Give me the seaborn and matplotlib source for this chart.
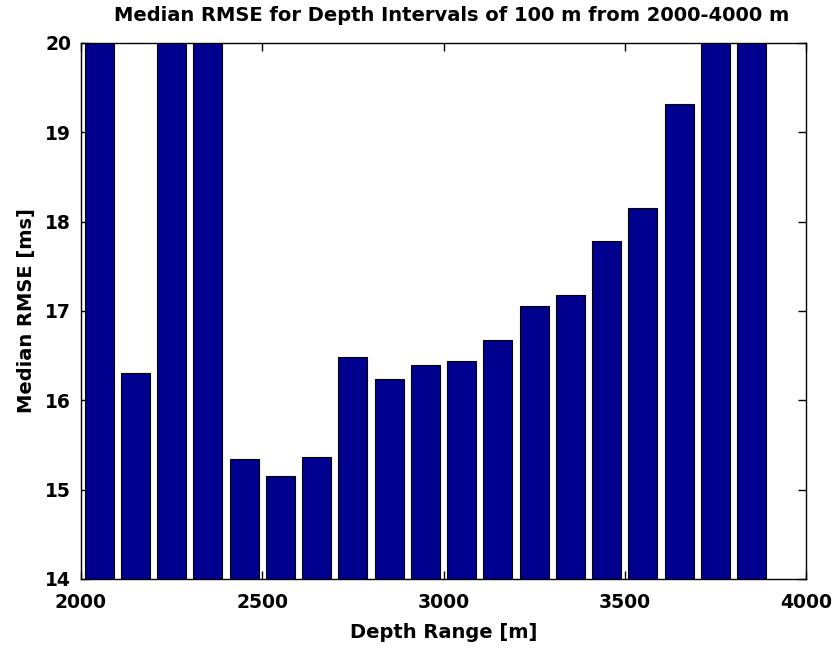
import matplotlib
matplotlib.use("Agg")
import matplotlib.pyplot as plt
import seaborn as sns
import pandas as pd

# Data (bin centres in m, median RMSE in ms); bars above 20 are clipped in the original
depth_centers = [2050, 2150, 2250, 2350, 2450, 2550, 2650, 2750, 2850, 2950,
                 3050, 3150, 3250, 3350, 3450, 3550, 3650, 3750, 3850]
median_rmse = [20.8, 16.31, 20.6, 21.2, 15.34, 15.15, 15.37, 16.48, 16.24, 16.39,
               16.44, 16.67, 17.06, 17.18, 17.78, 18.15, 19.32, 20.4, 20.9]
x_ticks = [2000, 2500, 3000, 3500, 4000]
y_ticks = [14, 15, 16, 17, 18, 19, 20]

sns.set_theme(style="white")
plt.rcParams['font.family'] = ['DejaVu Sans']
plt.rcParams['font.weight'] = 'bold'
plt.rcParams['text.color'] = 'black'
plt.rcParams['axes.labelcolor'] = 'black'
plt.rcParams['xtick.color'] = 'black'
plt.rcParams['ytick.color'] = 'black'

df = pd.DataFrame({"depth": depth_centers, "rmse": median_rmse})

fig = plt.figure(figsize=(8.35, 6.51), dpi=100)
ax = fig.add_axes([81/835, 72/651, (806-81)/835, (579-43)/651])

sns.barplot(data=df, x="depth", y="rmse", native_scale=True, ax=ax,
            color="#00008F", saturation=1, edgecolor="black", linewidth=0.8,
            width=0.8)

ax.set_xlim(2000, 4000)
ax.set_ylim(14, 20)
ax.set_xticks(x_ticks)
ax.set_yticks(y_ticks)
ax.set_xticklabels([str(t) for t in x_ticks], fontsize=13.5, fontweight='bold', color='black')
ax.set_yticklabels([str(t) for t in y_ticks], fontsize=13.5, fontweight='bold', color='black')
ax.tick_params(axis='x', direction='in', length=6, width=1, top=True, bottom=True, pad=10)
ax.tick_params(axis='y', direction='in', length=6, width=1, left=True, right=True, pad=7)
for s in ax.spines.values():
    s.set_visible(True)
    s.set_color('black')
    s.set_linewidth(1)

ax.set_xlabel("Depth Range [m]", fontsize=14, fontweight='bold', labelpad=8, color='black')
ax.set_ylabel("Median RMSE [ms]", fontsize=14, fontweight='bold', labelpad=7, color='black')
ax.set_title("Median RMSE for Depth Intervals of 100 m from 2000-4000 m",
             fontsize=14, fontweight='bold', pad=16, color='black', x=0.511)

fig.savefig("out.png", dpi=100, facecolor='white')
